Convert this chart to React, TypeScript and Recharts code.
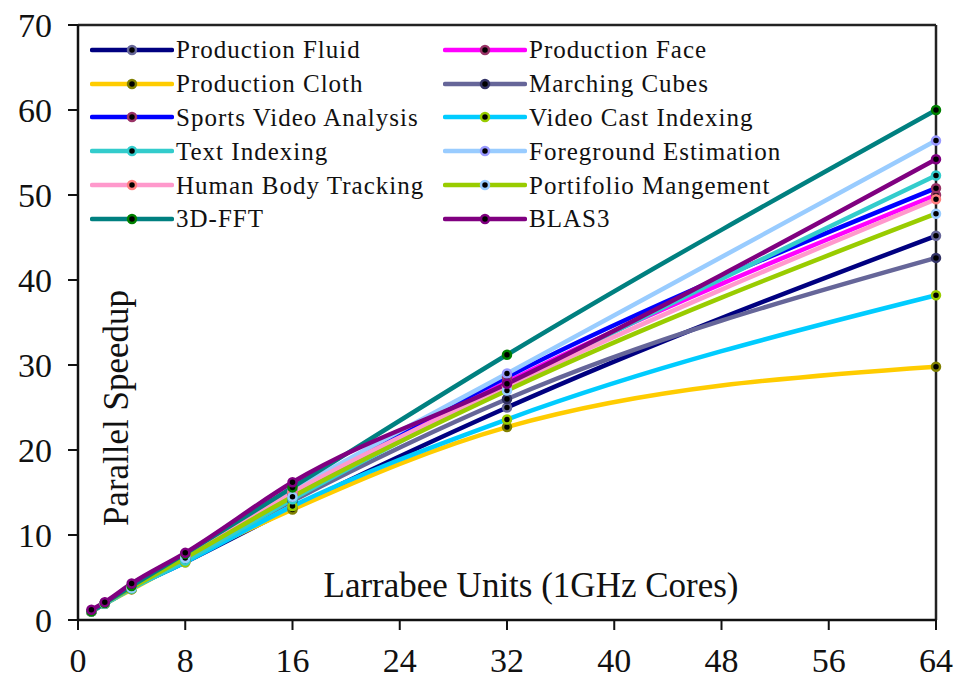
import React from 'react'
import { LineChart, Line, XAxis, YAxis, ReferenceLine } from 'recharts'

const cores = [1, 2, 4, 8, 16, 32, 64]
const xTicks = [0, 8, 16, 24, 32, 40, 48, 56, 64]
const yTicks = [0, 10, 20, 30, 40, 50, 60, 70]

const productionFluid = [1, 1.9, 3.7, 6.8, 13.2, 25.0, 45.2]
const productionFace = [1, 2, 3.9, 7.6, 14.8, 28.0, 50.0]
const productionCloth = [1, 1.9, 3.6, 7.0, 13.0, 22.7, 29.8]
const marchingCubes = [1, 2, 3.8, 7.2, 14.0, 26.0, 42.6]
const sportsVideo = [1, 2, 3.9, 7.6, 15.0, 28.6, 50.8]
const videoCast = [1, 1.9, 3.7, 6.8, 13.4, 23.6, 38.2]
const textIndexing = [1, 1.9, 3.7, 7.0, 14.2, 27.5, 52.3]
const foreground = [1, 2, 3.9, 7.5, 15.2, 29.0, 56.4]
const humanBody = [1, 2, 3.9, 7.6, 15.0, 27.5, 49.5]
const portfolio = [1, 2, 3.8, 7.3, 14.5, 27.0, 47.8]
const fft3d = [1, 2, 4.0, 7.8, 15.6, 31.2, 60.0]
const blas3 = [1.2, 2.1, 4.3, 7.9, 16.2, 27.8, 54.2]

const series = [
  { key: 'fluid', name: 'Production Fluid', values: productionFluid, color: '#000080', marker: '#666699' },
  { key: 'face', name: 'Production Face', values: productionFace, color: '#ff00ff', marker: '#993366' },
  { key: 'cloth', name: 'Production Cloth', values: productionCloth, color: '#ffcc00', marker: '#808000' },
  { key: 'cubes', name: 'Marching Cubes', values: marchingCubes, color: '#666699', marker: '#333366' },
  { key: 'sports', name: 'Sports Video Analysis', values: sportsVideo, color: '#0000ff', marker: '#993366' },
  { key: 'cast', name: 'Video Cast Indexing', values: videoCast, color: '#00ccff', marker: '#99cc00' },
  { key: 'text', name: 'Text Indexing', values: textIndexing, color: '#33cccc', marker: '#33cccc' },
  { key: 'fg', name: 'Foreground Estimation', values: foreground, color: '#99ccff', marker: '#9999ff' },
  { key: 'body', name: 'Human Body Tracking', values: humanBody, color: '#ff99cc', marker: '#ff8080' },
  { key: 'port', name: 'Portifolio Mangement', values: portfolio, color: '#99cc00', marker: '#99ccff' },
  { key: 'fft', name: '3D-FFT', values: fft3d, color: '#008080', marker: '#008000' },
  { key: 'blas', name: 'BLAS3', values: blas3, color: '#800080', marker: '#800080' },
]

const data = cores.map((x, i) => {
  const row: Record<string, number> = { x }
  series.forEach((s) => {
    row[s.key] = s.values[i]
  })
  return row
})

const FONT = '"Liberation Serif", "Times New Roman", serif'

function LegendBox() {
  return (
    <div
      style={{
        position: 'absolute',
        left: 90,
        top: 33,
        display: 'grid',
        gridTemplateColumns: '353px 360px',
        fontFamily: FONT,
        fontSize: 25,
        letterSpacing: 1,
        color: '#111',
      }}
    >
      {series.map((s) => (
        <div key={s.key} style={{ display: 'flex', alignItems: 'center', height: 33.8 }}>
          <svg width={84} height={14} style={{ marginRight: 2, flexShrink: 0 }}>
            <line x1={2} y1={7} x2={82} y2={7} stroke={s.color} strokeWidth={4.5} strokeLinecap="round" />
            <circle cx={42} cy={7} r={4} fill="#000" stroke={s.marker} strokeWidth={2.5} />
          </svg>
          <span style={{ whiteSpace: 'nowrap', lineHeight: 1 }}>{s.name}</span>
        </div>
      ))}
    </div>
  )
}

const xTitle = (props: any) => {
  const { viewBox } = props
  return (
    <text
      x={viewBox.x + viewBox.width * 0.528}
      y={viewBox.y - 23}
      textAnchor="middle"
      fontFamily={FONT}
      fontSize={35}
      fill="#111"
    >
      Larrabee Units (1GHz Cores)
    </text>
  )
}

const yTitle = () => (
  <text
    x={128}
    y={408}
    textAnchor="middle"
    transform="rotate(-90, 128, 408)"
    fontFamily={FONT}
    fontSize={35}
    fill="#111"
  >
    Parallel Speedup
  </text>
)

export default function App() {
  return (
    <div style={{ position: 'absolute', left: 0, top: 0, width: 955, height: 684, background: '#fff' }}>
      <LineChart width={955} height={684} data={data} margin={{ top: 25, right: 19, left: 0, bottom: 0 }}>
        <XAxis
          dataKey="x"
          type="number"
          domain={[0, 64]}
          ticks={xTicks}
          height={64}
          tickSize={10}
          tickMargin={18}
          axisLine={{ stroke: '#111', strokeWidth: 2.5 }}
          tickLine={{ stroke: '#111', strokeWidth: 2 }}
          tick={{ fill: '#111', fontSize: 34, fontFamily: FONT }}
          label={xTitle}
        />
        <YAxis
          type="number"
          domain={[0, 70]}
          ticks={yTicks}
          width={78}
          tickSize={10}
          tickMargin={16}
          axisLine={{ stroke: '#111', strokeWidth: 2.5 }}
          tickLine={{ stroke: '#111', strokeWidth: 2 }}
          tick={{ fill: '#111', fontSize: 34, fontFamily: FONT }}
          label={yTitle}
        />
        <ReferenceLine y={70} stroke="#222" strokeWidth={2.5} />
        <ReferenceLine x={64} stroke="#222" strokeWidth={2.5} />
        {series.map((s) => (
          <Line
            key={s.key}
            dataKey={s.key}
            name={s.name}
            type="monotone"
            stroke={s.color}
            strokeWidth={4.5}
            dot={{ r: 4, fill: '#000', stroke: s.marker, strokeWidth: 2.5 }}
            isAnimationActive={false}
          />
        ))}
      </LineChart>
      <LegendBox />
    </div>
  )
}
